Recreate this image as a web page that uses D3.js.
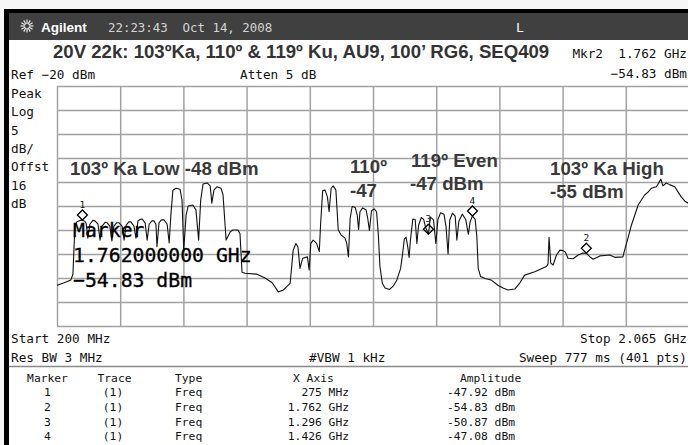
<!DOCTYPE html>
<meta charset="utf-8">
<style>
body { margin: 0; background: #fff; }
svg { display: block; }
.mono { font-family: "DejaVu Sans Mono", monospace; }
.bold { font-family: "Liberation Sans", Arial, sans-serif; font-weight: bold; }
</style>
<body>
<script src="https://cdn.jsdelivr.net/npm/d3@7"></script>
<script>

// sweep trace, MHz / dBm (~10 per line)
var traceFreq = [
  200,221,241,247,253,259,268,275,282,286,
  291,297,306,312,321,327,333,342,348,356,
  362,368,376,383,392,398,404,412,418,427,
  433,439,445,451,460,466,472,480,486,492,
  495,501,508,516,525,531,536,542,551,563,
  569,574,581,587,601,610,618,624,631,643,
  652,657,663,672,684,690,699,711,719,734,
  740,746,755,790,814,835,853,868,878,888,
  897,905,911,917,925,939,944,949,956,966,
  974,978,984,991,998,1003,1009,1015,1023,1030,
  1038,1050,1055,1060,1065,1071,1080,1086,1090,1094,
  1102,1112,1117,1122,1128,1136,1143,1148,1153,1160,
  1168,1181,1192,1203,1214,1220,1225,1230,1235,1239,
  1243,1250,1257,1262,1267,1275,1282,1288,1296,1302,
  1311,1318,1324,1332,1342,1348,1354,1359,1367,1375,
  1380,1386,1396,1406,1414,1419,1426,1434,1439,1443,
  1450,1463,1481,1501,1516,1531,1551,1566,1580,1610,
  1644,1649,1652,1657,1664,1674,1684,1693,1700,1708,
  1723,1738,1752,1762,1773,1782,1802,1817,1831,1846,
  1870,1875,1885,1895,1915,1934,1944,1954,1969,1982,
  1988,1998,2009,2023,2033,2042,2053,2065
];
var traceAmp = [
  -61.5,-61.0,-60.4,-59.2,-49.0,-48.3,-48.0,-47.92,-48.2,-48.6,
  -51.7,-48.8,-48.0,-48.1,-48.8,-52.1,-49.2,-48.4,-48.5,-49.2,
  -52.3,-49.2,-48.5,-48.5,-49.2,-52.1,-49.0,-48.3,-48.3,-49.2,
  -51.7,-48.1,-47.8,-47.7,-48.5,-52.1,-48.8,-48.1,-48.1,-48.8,
  -53.5,-48.5,-47.9,-47.9,-48.8,-52.7,-46.9,-41.7,-41.3,-41.5,
  -43.8,-54.2,-46.9,-45.0,-44.8,-45.8,-52.1,-43.8,-40.4,-40.2,
  -40.8,-44.4,-41.7,-41.0,-41.3,-42.7,-52.1,-50.4,-50.0,-50.0,
  -50.8,-58.8,-59.0,-59.2,-60.0,-61.0,-62.9,-62.5,-61.8,-61.1,
  -54.2,-52.8,-53.5,-58.0,-55.9,-55.6,-58.3,-52.8,-52.1,-52.8,
  -54.5,-48.6,-41.8,-41.7,-43.1,-46.2,-41.3,-40.8,-41.7,-50.0,
  -51.0,-51.7,-52.8,-55.6,-47.6,-45.1,-45.3,-46.9,-49.9,-46.2,
  -45.4,-45.8,-47.6,-50.1,-46.0,-45.6,-46.2,-50.7,-57.6,-61.1,
  -62.1,-62.4,-61.7,-60.4,-58.0,-54.9,-51.9,-51.5,-53.5,-55.7,
  -52.1,-47.7,-47.8,-52.8,-49.0,-47.4,-47.8,-49.5,-50.87,-47.3,
  -47.9,-52.8,-47.8,-46.4,-46.7,-49.3,-55.0,-47.9,-46.5,-47.1,
  -52.1,-48.1,-46.7,-47.8,-50.9,-48.3,-47.08,-47.8,-51.4,-58.0,
  -59.7,-60.1,-60.4,-61.5,-62.1,-62.5,-62.3,-61.0,-59.4,-58.7,
  -57.6,-57.1,-51.5,-56.9,-57.3,-55.2,-54.2,-54.3,-54.6,-55.9,
  -56.0,-55.2,-54.8,-54.83,-55.6,-56.1,-55.4,-55.3,-55.2,-55.7,
  -55.6,-54.2,-51.7,-49.0,-44.8,-42.7,-42.1,-41.3,-41.0,-39.4,
  -40.8,-40.2,-40.6,-41.0,-42.1,-43.1,-44.0,-44.5
];

// markers
var markerIds = [1, 2, 3, 4];
var markerFreq = [275, 1762, 1296, 1426];
var markerAmp = [-47.92, -54.83, -50.87, -47.08];
var markerXLabels = ["275 MHz", "1.762 GHz", "1.296 GHz", "1.426 GHz"];

// screen settings
var startFreq = 200, stopFreq = 2065;
var refLevel = -20, dbPerDiv = 5, divisions = 10;
var leftLabels = ["Peak", "Log", "5", "dB/", "Offst", "16", "dB"];
var tableHeads = ["Marker", "Trace", "Type", "X Axis", "Amplitude"];

var width = 688, height = 445;
var plot = {left: 57, right: 689, top: 86, bottom: 326};

var svg = d3.select("body").append("svg")
    .attr("width", width)
    .attr("height", height);

// instrument frame
svg.append("rect").attr("width", width).attr("height", height).attr("fill", "#f6f6f6");
svg.append("rect").attr("x", 4).attr("y", 9).attr("width", width - 4).attr("height", height - 9).attr("fill", "#000");
svg.append("rect").attr("x", 9).attr("y", 13).attr("width", width - 9).attr("height", 27).attr("fill", "#404040");
svg.append("rect").attr("x", 9).attr("y", 40).attr("width", width - 9).attr("height", height - 40).attr("fill", "#fff");
svg.append("line").attr("x1", 9).attr("x2", width).attr("y1", 366.5).attr("y2", 366.5)
    .attr("stroke", "#8a8a8a").attr("stroke-width", 1.5);

// agilent spark
var spark = svg.append("g").attr("transform", "translate(27,26)");
spark.selectAll("line")
    .data(d3.range(12))
  .enter().append("line")
    .attr("x1", function(d) { return 2 * Math.cos(d * Math.PI / 6); })
    .attr("y1", function(d) { return 2 * Math.sin(d * Math.PI / 6); })
    .attr("x2", function(d) { return 6.5 * Math.cos(d * Math.PI / 6); })
    .attr("y2", function(d) { return 6.5 * Math.sin(d * Math.PI / 6); })
    .attr("stroke", "#e8e8e8").attr("stroke-width", 1.2);

svg.append("text").attr("class", "bold").attr("x", 41).attr("y", 31.5)
    .attr("font-size", 13.5).attr("fill", "#fff").text("Agilent");
svg.append("text").attr("class", "mono").attr("x", 108).attr("y", 31.5)
    .attr("font-size", 12.4).attr("fill", "#d4d4d4").attr("xml:space", "preserve")
    .text("22:23:43  Oct 14, 2008");
svg.append("text").attr("class", "mono").attr("x", 520).attr("y", 31.5)
    .attr("text-anchor", "middle").attr("font-size", 13).attr("fill", "#fff").text("L");

svg.append("text").attr("class", "bold").attr("x", 53).attr("y", 58)
    .attr("font-size", 18.6).attr("fill", "#333")
    .text("20V 22k: 103ºKa, 110º & 119º Ku, AU9, 100’ RG6, SEQ409");

var small = 12.7;
function monoText(x, y, str, anchor) {
  return svg.append("text").attr("class", "mono")
      .attr("x", x).attr("y", y)
      .attr("font-size", small).attr("fill", "#111")
      .attr("text-anchor", anchor || "start")
      .attr("xml:space", "preserve")
      .text(str);
}

monoText(687, 58, "Mkr2  1.762 GHz", "end");
monoText(687, 78, "−54.83 dBm", "end");
monoText(11, 79, "Ref −20 dBm");
monoText(240, 79, "Atten 5 dB");
monoText(11, 343, "Start " + startFreq + " MHz");
monoText(687, 343, "Stop " + (stopFreq / 1000).toFixed(3) + " GHz", "end");
monoText(11, 362, "Res BW 3 MHz");
monoText(309, 362, "#VBW 1 kHz");
monoText(687, 362, "Sweep 777 ms (401 pts)", "end");

svg.selectAll(".leftLabel")
    .data(leftLabels)
  .enter().append("text")
    .attr("class", "leftLabel mono")
    .attr("x", 11)
    .attr("y", function(d, i) { return 98 + i * 18.3; })
    .attr("font-size", small).attr("fill", "#111")
    .text(function(d) { return d; });

// scales
var x = d3.scaleLinear()
    .domain([startFreq, stopFreq])
    .range([plot.left, plot.right]);

var y = d3.scaleLinear()
    .domain([refLevel - dbPerDiv * divisions, refLevel])
    .range([plot.bottom, plot.top]);

var gridFreq = d3.range(divisions + 1).map(function(i) { return startFreq + i * (stopFreq - startFreq) / divisions; });
var gridAmp = d3.range(divisions + 1).map(function(i) { return refLevel - i * dbPerDiv; });

var gridColor = "#a2a2a2";

svg.append("g")
    .attr("class", "grid")
    .attr("transform", "translate(0," + plot.bottom + ")")
    .call(d3.axisBottom(x).tickValues(gridFreq).tickSize(-(plot.bottom - plot.top)).tickFormat(""))
    .call(function(g) { g.select(".domain").remove(); });

svg.append("g")
    .attr("class", "grid")
    .attr("transform", "translate(" + plot.left + ",0)")
    .call(d3.axisLeft(y).tickValues(gridAmp).tickSize(-(plot.right - plot.left)).tickFormat(""))
    .call(function(g) { g.select(".domain").remove(); });

svg.selectAll(".grid line")
    .attr("stroke", gridColor)
    .attr("stroke-width", 1.5);

// trace
var trace = traceFreq.map(function(f, i) { return {f: f, a: traceAmp[i]}; });

var line = d3.line()
    .x(function(d) { return x(d.f); })
    .y(function(d) { return y(d.a); });

svg.append("path")
    .datum(trace)
    .attr("d", line)
    .attr("fill", "none")
    .attr("stroke", "#111")
    .attr("stroke-width", 1.1)
    .attr("stroke-linejoin", "round");

// marker diamonds
var markers = markerIds.map(function(id, i) {
  return {id: id, f: markerFreq[i], a: markerAmp[i], xl: markerXLabels[i]};
});

svg.selectAll(".marker")
    .data(markers)
  .enter().append("path")
    .attr("class", "marker")
    .attr("d", function(d) {
      var px = x(d.f), py = y(d.a);
      return "M" + px + "," + (py - 10) + "L" + (px + 5) + "," + (py - 5) +
             "L" + px + "," + py + "L" + (px - 5) + "," + (py - 5) + "Z";
    })
    .attr("fill", "none")
    .attr("stroke", "#000")
    .attr("stroke-width", 1.3);

svg.selectAll(".markerId")
    .data(markers)
  .enter().append("text")
    .attr("class", "markerId mono")
    .attr("x", function(d) { return x(d.f); })
    .attr("y", function(d) { return y(d.a) - 12; })
    .attr("text-anchor", "middle")
    .attr("font-size", 9.5)
    .attr("fill", "#111")
    .text(function(d) { return d.id; });

// active marker readout
var active = markers[1];
var readout = ["Marker", (active.f / 1000).toFixed(9) + " GHz", "−" + Math.abs(active.a).toFixed(2) + " dBm"];
svg.selectAll(".readout")
    .data(readout)
  .enter().append("text")
    .attr("class", "readout mono")
    .attr("x", 73)
    .attr("y", function(d, i) { return 237 + i * 25; })
    .attr("font-size", 19.8)
    .attr("fill", "#000")
    .attr("stroke", "#000")
    .attr("stroke-width", 0.3)
    .text(function(d) { return d; });

// band notes
var notes = [
  {x: 70, y: 175, t: "103º Ka Low -48 dBm"},
  {x: 350, y: 173, t: "110º"},
  {x: 350, y: 197, t: "-47"},
  {x: 411, y: 167, t: "119º Even"},
  {x: 410, y: 190, t: "-47 dBm"},
  {x: 550, y: 175, t: "103º Ka High"},
  {x: 550, y: 198, t: "-55 dBm"}
];
svg.selectAll(".note")
    .data(notes)
  .enter().append("text")
    .attr("class", "note bold")
    .attr("x", function(d) { return d.x; })
    .attr("y", function(d) { return d.y; })
    .attr("font-size", 18.7)
    .attr("fill", "#3a3a3a")
    .text(function(d) { return d.t; });

// marker table
var tfs = 11.3;
var cols = [
  {x: 47.5, anchor: "middle", v: function(d) { return d.id; }},
  {x: 113, anchor: "middle", v: function(d) { return "(1)"; }},
  {x: 175, anchor: "start", v: function(d) { return "Freq"; }},
  {x: 349, anchor: "end", v: function(d) { return d.xl; }},
  {x: 515, anchor: "end", v: function(d) { return d.a.toFixed(2) + " dBm"; }}
];
var headX = [47.5, 114.5, 175, 293, 460];
var headAnchor = ["middle", "middle", "start", "start", "start"];

svg.selectAll(".thead")
    .data(tableHeads)
  .enter().append("text")
    .attr("class", "thead mono")
    .attr("x", function(d, i) { return headX[i]; })
    .attr("y", 381.5)
    .attr("text-anchor", function(d, i) { return headAnchor[i]; })
    .attr("font-size", tfs).attr("fill", "#111")
    .text(function(d) { return d; });

cols.forEach(function(c) {
  svg.selectAll(null)
      .data(markers)
    .enter().append("text")
      .attr("class", "mono")
      .attr("x", c.x)
      .attr("y", function(d, i) { return 396 + i * 14.8; })
      .attr("text-anchor", c.anchor)
      .attr("font-size", tfs).attr("fill", "#111")
      .text(c.v);
});

</script>
